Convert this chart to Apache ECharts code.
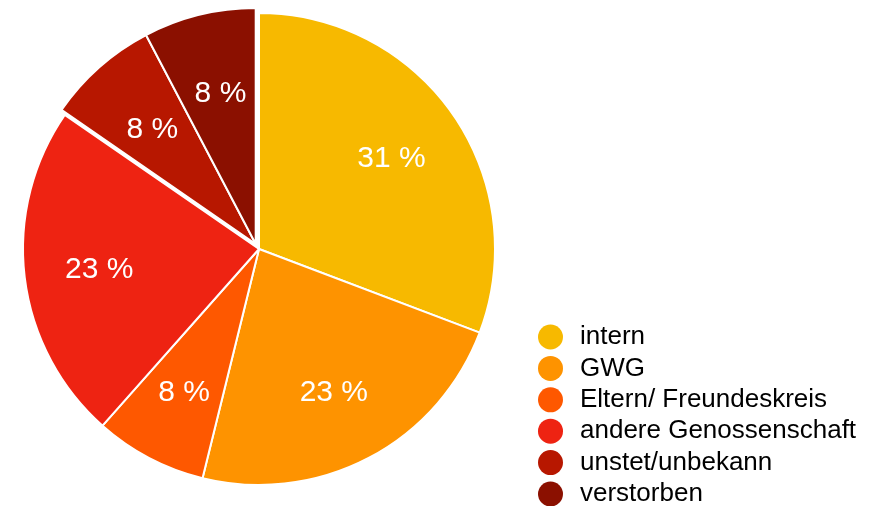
<!DOCTYPE html>
<html>
<head>
<meta charset="utf-8">
<script src="https://cdn.jsdelivr.net/npm/echarts@6/dist/echarts.min.js"></script>
<style>
  html, body { margin: 0; padding: 0; background: #fff; }
  #chart { width: 887px; height: 506px; }
</style>
</head>
<body>
<div id="chart"></div>
<script>
// Where people moved to (counts per category)
const categories = ['intern', 'GWG', 'Eltern/ Freundeskreis', 'andere Genossenschaft', 'unstet/unbekann', 'verstorben'];
const counts = [4, 3, 1, 3, 1, 1];
const colors = ['#F7B900', '#FE9300', '#FE5800', '#EE2312', '#B71700', '#8B1000'];
// the last two slices are pulled out of the pie together
const pulledOut = [false, false, false, false, true, true];

const center = [259, 249];
const pulledCenter = [255.7, 244];
const radius = 236;
const font = '"Liberation Sans", Arial, Helvetica, sans-serif';

function sliceData(showPulled) {
  return categories.map((name, i) => ({
    name,
    value: counts[i],
    itemStyle: pulledOut[i] === showPulled
      ? { color: colors[i] }
      : { color: colors[i], opacity: 0, borderWidth: 0 }
  }));
}

const chart = echarts.init(document.getElementById('chart'), null, { renderer: 'canvas' });

const pieBase = {
  type: 'pie',
  radius: [0, radius],
  startAngle: 90,
  clockwise: true,
  label: { show: false },
  labelLine: { show: false },
  emphasis: { disabled: true },
  animation: false,
  itemStyle: { borderColor: '#fff', borderWidth: 2 }
};

chart.setOption({
  animation: false,
  legend: {
    orient: 'vertical',
    left: 538,
    top: 324,
    height: 300,
    padding: 0,
    icon: 'circle',
    itemWidth: 25,
    itemHeight: 25,
    itemGap: 5.4,
    selectedMode: false,
    itemStyle: { borderWidth: 0 },
    textStyle: {
      fontFamily: font,
      fontSize: 26,
      lineHeight: 25,
      color: '#000',
      padding: [0, 0, 0, 12]
    },
    data: categories.map((name, i) => ({
      name,
      itemStyle: { color: colors[i], opacity: 1, borderWidth: 0 }
    }))
  },
  series: [
    Object.assign({}, pieBase, { name: 'main', center: center, data: sliceData(false) }),
    Object.assign({}, pieBase, { name: 'pulled', center: pulledCenter, data: sliceData(true) }),
    {
      // percentage labels, placed on a transparent ring around the pie centre
      type: 'pie',
      name: 'labels',
      center: [259, 250.5],
      radius: [80, radius],
      startAngle: 90,
      clockwise: true,
      silent: true,
      animation: false,
      avoidLabelOverlap: false,
      emphasis: { disabled: true },
      itemStyle: { color: 'rgba(0,0,0,0)', borderWidth: 0 },
      labelLine: { show: false },
      label: {
        show: true,
        position: 'inside',
        color: '#fff',
        fontFamily: font,
        fontSize: 30,
        formatter: p => Math.round(p.percent) + ' %'
      },
      data: categories.map((name, i) => ({ name, value: counts[i] }))
    }
  ]
});
</script>
</body>
</html>
